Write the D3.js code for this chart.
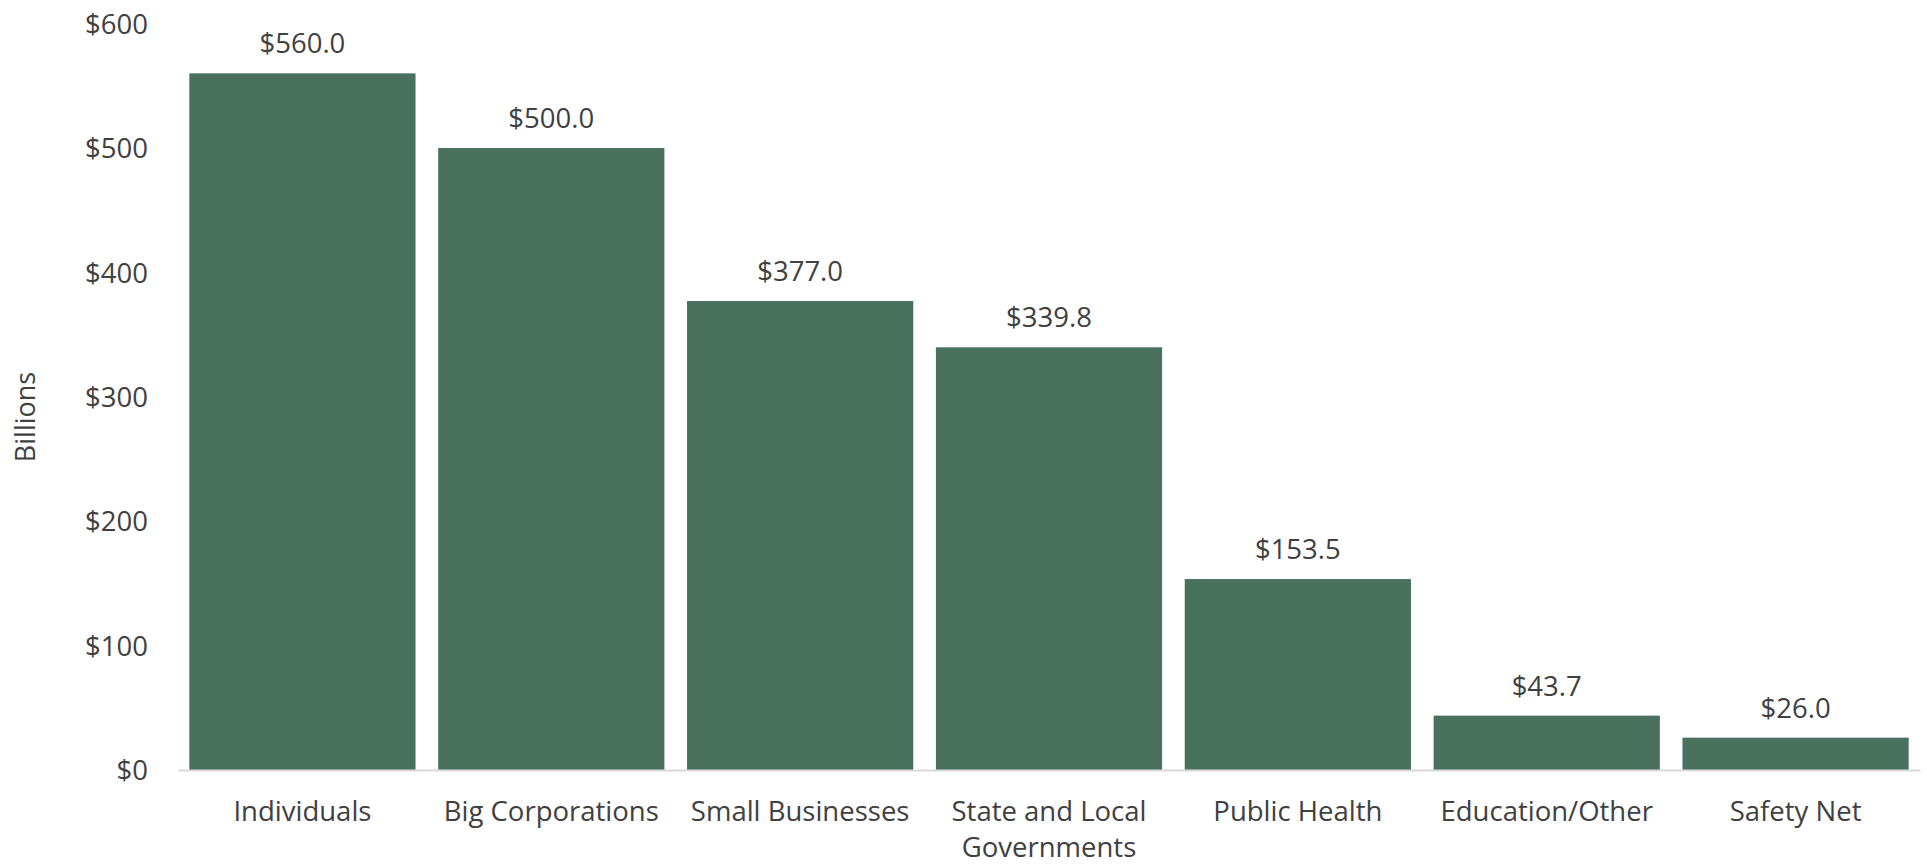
<!DOCTYPE html>
<html>

<head>
    <title>Relief Spending</title>
    <script src="https://d3js.org/d3.v7.min.js"></script>
    <style>
        body {
            margin: 0;
            background: #fff;
        }

        text {
            font-family: "Open Sans", sans-serif;
            fill: #404040;
        }

        .bar {
            fill: #4a715e;
        }

        .domain {
            stroke: #d9d9d9;
            stroke-width: 2px;
        }
    </style>
</head>

<body>
    <div id="graph"></div>
    <script>
        // chart data
        const categories = ["Individuals", "Big Corporations", "Small Businesses", "State and Local Governments",
            "Public Health", "Education/Other", "Safety Net"];
        const amounts = [560.0, 500.0, 377.0, 339.8, 153.5, 43.7, 26.0];
        const yTicks = [0, 100, 200, 300, 400, 500, 600];
        const yLabel = "Billions";

        const W = 1927, H = 864;
        const margin = { top: 23.6, right: 7, bottom: 94, left: 178 };
        const width = W - margin.left - margin.right,
            height = H - margin.top - margin.bottom;
        const fontSize = 27.5;

        const data = categories.map((c, i) => ({ category: c, value: amounts[i] }));

        const svg = d3.select("#graph").append("svg")
            .attr("width", W)
            .attr("height", H);

        const g = svg.append("g")
            .attr("transform", "translate(" + margin.left + "," + margin.top + ")");

        const x = d3.scaleBand()
            .domain(categories)
            .range([0, width])
            .paddingInner(0.091)
            .paddingOuter(0.0455);

        const y = d3.scaleLinear()
            .domain([0, 600])
            .range([height, 0]);

        // bars
        g.selectAll("rect")
            .data(data)
            .enter().append("rect")
            .attr("class", "bar")
            .attr("x", d => x(d.category))
            .attr("y", d => y(d.value))
            .attr("width", x.bandwidth())
            .attr("height", d => height - y(d.value));

        // value labels
        g.selectAll(".value")
            .data(data)
            .enter().append("text")
            .attr("class", "value")
            .attr("x", d => x(d.category) + x.bandwidth() / 2)
            .attr("y", d => y(d.value) - 20)
            .attr("text-anchor", "middle")
            .attr("font-size", fontSize)
            .text(d => "$" + d.value.toFixed(1));

        // x axis
        const xAxis = g.append("g")
            .attr("transform", "translate(0," + height + ")")
            .call(d3.axisBottom(x).tickSize(0).tickSizeOuter(0).tickPadding(0));

        xAxis.selectAll(".tick text")
            .attr("font-size", fontSize)
            .attr("y", 51)
            .attr("dy", 0)
            .call(wrap, x.step() - 12);

        // y axis
        const yAxis = g.append("g")
            .call(d3.axisLeft(y).tickValues(yTicks).tickSize(0).tickPadding(30)
                .tickFormat(d => "$" + d));
        yAxis.select(".domain").remove();
        yAxis.selectAll(".tick text")
            .attr("font-size", fontSize)
            .attr("dy", "0.35em");

        svg.append("text")
            .attr("transform", "translate(35,417) rotate(-90)")
            .attr("text-anchor", "middle")
            .attr("font-size", 27)
            .text(yLabel);

        // wrap long tick labels onto two lines
        function wrap(sel, w) {
            sel.each(function () {
                const t = d3.select(this);
                const words = t.text().split(/\s+/);
                const y0 = t.attr("y");
                let line = [];
                let lineNo = 0;
                let tspan = t.text(null).append("tspan").attr("x", 0).attr("y", y0);
                words.forEach(word => {
                    line.push(word);
                    tspan.text(line.join(" "));
                    if (tspan.node().getComputedTextLength() > w && line.length > 1) {
                        line.pop();
                        tspan.text(line.join(" "));
                        line = [word];
                        lineNo++;
                        tspan = t.append("tspan").attr("x", 0).attr("y", y0)
                            .attr("dy", lineNo * 36 + "px").text(word);
                    }
                });
            });
        }
    </script>
</body>

</html>
